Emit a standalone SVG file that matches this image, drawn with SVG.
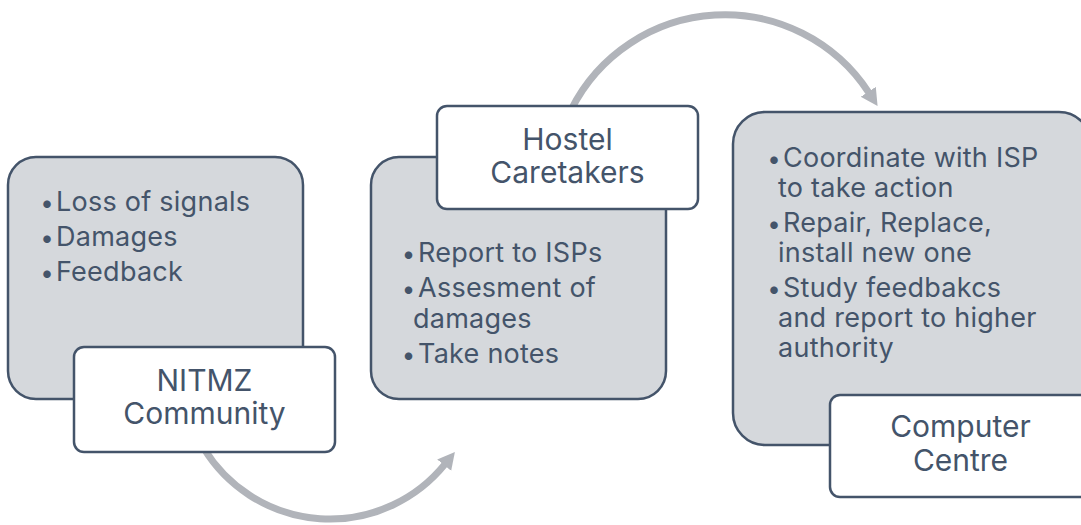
<svg xmlns="http://www.w3.org/2000/svg" width="1081" height="525" viewBox="0 0 1081 525">
  <style>
    .panel { fill: #D5D8DC; stroke: #44546A; stroke-width: 2.5; }
    .label { fill: #FFFFFF; stroke: #44546A; stroke-width: 2.5; }
    .body { font-family: Inter, "Noto Sans", "Liberation Sans", sans-serif; font-size: 27px; letter-spacing: 0.25px; fill: #44546A; }
    .title { font-family: Inter, "Noto Sans", "Liberation Sans", sans-serif; font-size: 30px; fill: #44546A; text-anchor: middle; }
    .bullet { text-anchor: middle; font-size: 24px; }
    .arc { fill: none; stroke: #B1B4BA; stroke-width: 7; }
  </style>
  <defs>
    <marker id="head" markerUnits="userSpaceOnUse" markerWidth="20" markerHeight="20" refX="1" refY="9" orient="auto">
      <path d="M0,0 L17,9 L0,18 z" fill="#B1B4BA"/>
    </marker>
  </defs>
  <rect width="1081" height="525" fill="#FFFFFF"/>

  <g id="connectors">
    <path class="arc" d="M203.6,448 A148,148 0 0 0 444.8,464.4" marker-end="url(#head)"/>
    <path class="arc" d="M571,110 A172,172 0 0 1 868.8,92.6" marker-end="url(#head)"/>
  </g>

  <g id="node-nitmz">
    <rect class="panel" x="8" y="157" width="295" height="242" rx="28"/>
    <text class="body bullet" x="47" y="211">•</text>
    <text class="body" x="56" y="211">Loss of signals</text>
    <text class="body bullet" x="47" y="246">•</text>
    <text class="body" x="56" y="246">Damages</text>
    <text class="body bullet" x="47" y="281">•</text>
    <text class="body" x="56" y="281">Feedback</text>
    <rect class="label" x="74" y="347" width="261" height="105" rx="10"/>
    <text class="title" x="204.5" y="391">NITMZ</text>
    <text class="title" x="204.5" y="424">Community</text>
  </g>

  <g id="node-hostel">
    <rect class="panel" x="371" y="157" width="295" height="242" rx="28"/>
    <text class="body bullet" x="408.5" y="262">•</text>
    <text class="body" x="418" y="262">Report to ISPs</text>
    <text class="body bullet" x="408.5" y="297">•</text>
    <text class="body" x="418" y="297">Assesment of</text>
    <text class="body" x="413" y="328">damages</text>
    <text class="body bullet" x="408.5" y="363">•</text>
    <text class="body" x="418" y="363">Take notes</text>
    <rect class="label" x="437" y="106" width="261" height="103" rx="10"/>
    <text class="title" x="567.5" y="150">Hostel</text>
    <text class="title" x="567.5" y="183">Caretakers</text>
  </g>

  <g id="node-computer">
    <rect class="panel" x="733" y="112" width="358" height="333" rx="32"/>
    <text class="body bullet" x="774" y="167">•</text>
    <text class="body" x="783" y="167">Coordinate with ISP</text>
    <text class="body" x="778" y="197">to take action</text>
    <text class="body bullet" x="774" y="232">•</text>
    <text class="body" x="783" y="232">Repair, Replace,</text>
    <text class="body" x="778" y="262">install new one</text>
    <text class="body bullet" x="774" y="297">•</text>
    <text class="body" x="783" y="297">Study feedbakcs</text>
    <text class="body" x="778" y="327">and report to higher</text>
    <text class="body" x="778" y="357">authority</text>
    <rect class="label" x="830" y="395" width="261" height="102" rx="10"/>
    <text class="title" x="960.5" y="437">Computer</text>
    <text class="title" x="960.5" y="471">Centre</text>
  </g>
</svg>
